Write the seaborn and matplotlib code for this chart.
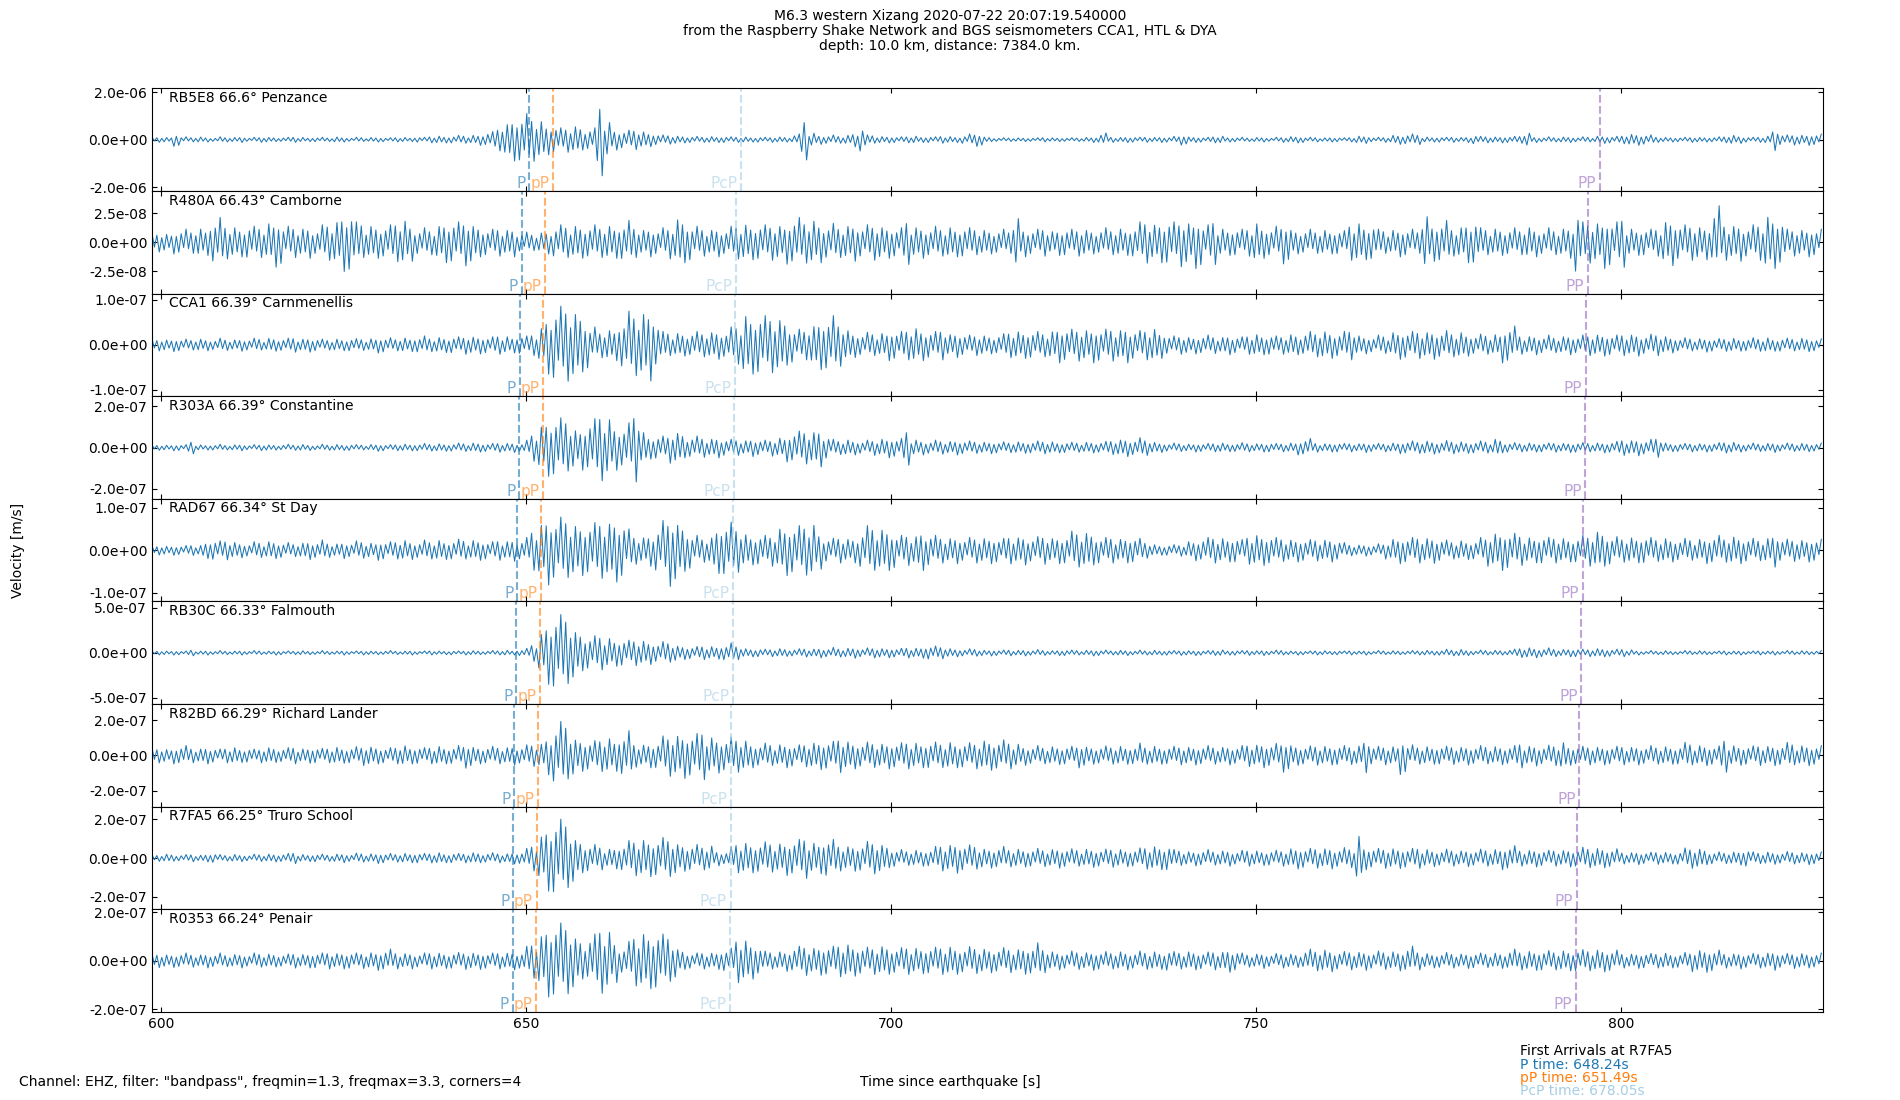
import numpy as np
import matplotlib
matplotlib.use("Agg")
import matplotlib.pyplot as plt
import matplotlib.transforms as mtransforms
from matplotlib.ticker import FormatStrFormatter
import seaborn as sns

# station info
stations = ["RB5E8", "R480A", "CCA1", "R303A", "RAD67", "RB30C", "R82BD", "R7FA5", "R0353"]
distances = ["66.6", "66.43", "66.39", "66.39", "66.34", "66.33", "66.29", "66.25", "66.24"]
places = ["Penzance", "Camborne", "Carnmenellis", "Constantine", "St Day", "Falmouth",
          "Richard Lander", "Truro School", "Penair"]

# y tick value and y limit per panel [m/s]
ytick_vals = [2.0e-6, 2.5e-8, 1.0e-7, 2.0e-7, 1.0e-7, 5.0e-7, 2.0e-7, 2.0e-7, 2.0e-7]
ylims = [2.16e-6, 4.39e-8, 1.14e-7, 2.49e-7, 1.21e-7, 5.7e-7, 2.9e-7, 2.64e-7, 2.12e-7]

# arrival times [s] per station
p_times = [650.45, 649.45, 649.15, 649.1, 648.85, 648.7, 648.45, 648.24, 648.2]
pP_times = [653.75, 652.7, 652.4, 652.35, 652.1, 651.95, 651.7, 651.49, 651.45]
pcp_times = [679.5, 678.8, 678.65, 678.55, 678.45, 678.4, 678.15, 678.05, 677.95]
PP_times = [797.1, 795.5, 795.2, 795.15, 794.75, 794.6, 794.3, 793.95, 793.85]

# trace envelopes: peak amplitude per second (599 s .. 827 s), in % of the panel's y tick
trace_start = 598.8
env_rb5e8 = [5, 6, 5, 14, 6, 5, 6, 5, 4, 6, 5, 5, 6, 4, 5, 6, 5, 4, 5, 6,
             5, 4, 5, 5, 4, 6, 5, 4, 5, 4, 5, 5, 4, 5, 5, 4, 6, 5, 7, 8,
             7, 8, 9, 8, 10, 12, 17, 25, 35, 45, 50, 55, 48, 42, 32, 30, 25, 28, 30, 22,
             25, 80, 40, 22, 20, 20, 22, 18, 15, 12, 10, 10, 8, 7, 7, 6, 7, 6, 7, 6,
             6, 6, 5, 6, 5, 6, 6, 5, 12, 45, 15, 10, 9, 10, 8, 10, 15, 28, 10, 8,
             7, 7, 6, 7, 8, 6, 7, 6, 8, 7, 6, 9, 12, 15, 6, 4, 4, 4, 4, 4,
             4, 4, 5, 4, 4, 4, 4, 4, 5, 6, 14, 6, 5, 6, 6, 5, 6, 5, 6, 6,
             7, 12, 6, 6, 5, 7, 8, 5, 5, 5, 4, 5, 5, 4, 5, 6, 7, 7, 5, 5,
             4, 5, 5, 4, 5, 8, 8, 5, 5, 6, 10, 10, 12, 11, 6, 5, 6, 5, 6, 5,
             6, 10, 7, 7, 6, 7, 7, 8, 15, 6, 5, 6, 5, 6, 6, 5, 6, 5, 8, 8,
             7, 9, 12, 12, 11, 10, 6, 5, 5, 5, 5, 6, 5, 5, 6, 7, 10, 8, 6, 5,
             6, 8, 23, 12, 10, 12, 10, 12, 12]
env_r480a = [30, 35, 30, 40, 45, 40, 50, 45, 75, 85, 60, 55, 50, 60, 55, 55, 70, 85, 55, 55,
             50, 55, 45, 60, 65, 75, 100, 108, 70, 55, 60, 55, 60, 70, 80, 65, 45, 50, 45, 60,
             70, 75, 70, 85, 60, 50, 45, 50, 45, 50, 35, 35, 30, 35, 40, 55, 60, 55, 60, 55,
             60, 55, 60, 55, 65, 75, 55, 45, 50, 45, 50, 60, 85, 70, 55, 50, 45, 50, 45, 55,
             60, 65, 60, 65, 60, 65, 60, 75, 85, 75, 80, 70, 60, 65, 55, 60, 65, 55, 60, 65,
             55, 55, 50, 80, 55, 55, 50, 55, 50, 55, 50, 55, 50, 45, 45, 40, 45, 40, 90, 50,
             45, 45, 50, 40, 45, 50, 45, 50, 45, 40, 50, 45, 50, 45, 55, 70, 75, 65, 70, 80,
             70, 88, 70, 90, 60, 80, 50, 45, 50, 45, 50, 70, 55, 50, 55, 78, 45, 40, 45, 40,
             45, 40, 45, 40, 65, 70, 60, 65, 45, 40, 45, 50, 45, 40, 97, 65, 70, 75, 50, 55,
             70, 80, 50, 45, 50, 45, 50, 45, 55, 50, 45, 50, 45, 50, 55, 116, 70, 75, 70, 90,
             70, 90, 50, 45, 50, 45, 50, 75, 80, 65, 60, 65, 55, 60, 125, 65, 60, 65, 55, 60,
             65, 95, 90, 80, 45, 50, 45, 50, 45]
env_cca1 = [12, 14, 12, 15, 13, 12, 14, 13, 12, 15, 13, 12, 14, 13, 15, 12, 16, 14, 15, 17,
            14, 16, 15, 13, 12, 14, 13, 15, 14, 13, 15, 18, 16, 14, 17, 15, 18, 20, 16, 18,
            17, 20, 18, 22, 19, 20, 18, 22, 20, 18, 22, 20, 25, 40, 65, 85, 86, 85, 75, 60,
            40, 30, 35, 35, 55, 75, 72, 75, 80, 50, 30, 25, 28, 25, 30, 28, 30, 32, 30, 40,
            45, 70, 65, 70, 65, 65, 60, 45, 35, 35, 45, 55, 60, 65, 50, 35, 28, 25, 28, 25,
            28, 35, 30, 35, 40, 35, 32, 30, 35, 25, 28, 25, 22, 25, 22, 20, 25, 30, 32, 30,
            32, 30, 28, 32, 40, 38, 35, 38, 35, 40, 35, 38, 35, 40, 35, 32, 35, 38, 30, 22,
            20, 22, 18, 20, 22, 20, 18, 22, 20, 18, 22, 25, 22, 24, 20, 22, 25, 22, 30, 28,
            32, 30, 28, 30, 35, 22, 20, 18, 22, 20, 30, 32, 30, 32, 30, 32, 30, 32, 28, 30,
            25, 22, 24, 22, 25, 40, 42, 22, 20, 22, 20, 22, 18, 20, 22, 20, 22, 25, 24, 25,
            22, 25, 24, 25, 22, 24, 25, 20, 18, 15, 16, 14, 15, 16, 14, 15, 16, 14, 15, 16,
            15, 17, 14, 16, 15, 14, 16, 15, 14]
env_r303a = [6, 7, 6, 8, 7, 16, 7, 6, 7, 8, 6, 7, 8, 6, 7, 8, 7, 6, 8, 7,
             8, 7, 6, 8, 7, 8, 7, 8, 7, 6, 8, 9, 7, 8, 9, 8, 9, 10, 9, 10,
             9, 10, 11, 10, 12, 11, 10, 12, 11, 12, 10, 18, 35, 55, 70, 75, 72, 60, 45, 55,
             70, 85, 75, 55, 50, 60, 88, 40, 28, 30, 28, 40, 38, 25, 28, 25, 22, 25, 22, 20,
             20, 18, 22, 20, 18, 22, 25, 35, 40, 42, 40, 47, 30, 20, 18, 20, 18, 16, 18, 20,
             22, 25, 22, 45, 20, 18, 16, 18, 17, 16, 18, 17, 16, 15, 14, 15, 14, 13, 15, 14,
             15, 16, 16, 15, 13, 14, 13, 12, 14, 13, 15, 18, 20, 22, 20, 24, 20, 14, 12, 10,
             11, 10, 9, 11, 10, 11, 12, 10, 11, 12, 11, 10, 11, 12, 10, 11, 12, 18, 22, 12,
             10, 11, 12, 10, 11, 10, 12, 11, 10, 11, 12, 15, 16, 15, 17, 16, 15, 17, 16, 15,
             14, 15, 16, 14, 22, 13, 12, 11, 12, 11, 12, 11, 12, 11, 12, 13, 12, 11, 12, 13,
             15, 20, 18, 20, 18, 20, 25, 12, 10, 11, 10, 11, 10, 11, 12, 14, 14, 11, 10, 11,
             10, 11, 12, 10, 11, 10, 11, 10, 11]
env_rad67 = [10, 12, 10, 12, 11, 13, 12, 20, 25, 22, 24, 20, 18, 16, 20, 18, 22, 20, 18, 16,
             18, 22, 20, 24, 18, 16, 20, 18, 22, 20, 18, 24, 20, 22, 25, 22, 20, 24, 22, 25,
             22, 24, 26, 22, 25, 24, 20, 25, 22, 26, 24, 30, 50, 65, 82, 75, 78, 68, 62, 60,
             65, 70, 68, 75, 70, 50, 35, 32, 38, 55, 70, 90, 65, 50, 35, 30, 32, 55, 65, 66,
             55, 40, 35, 38, 35, 40, 55, 60, 58, 62, 65, 45, 30, 28, 32, 28, 30, 45, 58, 50,
             52, 48, 35, 38, 35, 48, 40, 35, 32, 30, 32, 28, 30, 32, 30, 32, 28, 34, 32, 35,
             30, 32, 35, 30, 32, 35, 45, 42, 44, 35, 30, 32, 28, 30, 32, 28, 20, 14, 12, 14,
             13, 15, 22, 25, 30, 32, 30, 28, 32, 25, 35, 38, 36, 35, 30, 28, 26, 28, 25, 27,
             26, 28, 25, 18, 14, 13, 14, 13, 15, 22, 28, 32, 30, 32, 30, 31, 28, 24, 22, 24,
             22, 24, 30, 40, 42, 48, 40, 38, 32, 30, 35, 30, 32, 30, 28, 32, 35, 40, 47, 38,
             32, 30, 32, 30, 34, 30, 28, 30, 28, 26, 28, 25, 28, 32, 35, 30, 34, 32, 30, 28,
             26, 30, 40, 28, 26, 28, 25, 28, 26]
env_rb30c = [4, 5, 4, 5, 4, 7, 4, 5, 4, 5, 4, 4, 5, 4, 5, 4, 4, 5, 4, 4,
             5, 4, 4, 5, 4, 4, 5, 4, 4, 5, 4, 4, 5, 4, 4, 5, 4, 4, 5, 4,
             4, 5, 4, 5, 5, 4, 5, 5, 6, 5, 7, 10, 20, 45, 70, 87, 85, 72, 50, 40,
             38, 40, 35, 30, 32, 28, 30, 28, 26, 22, 25, 22, 16, 15, 14, 16, 15, 14, 18, 22,
             16, 10, 9, 10, 8, 9, 10, 8, 9, 10, 9, 11, 10, 12, 10, 11, 12, 10, 11, 12,
             10, 11, 10, 12, 11, 12, 16, 15, 14, 10, 9, 8, 9, 8, 6, 7, 6, 7, 6, 7,
             6, 7, 6, 5, 6, 7, 6, 5, 6, 7, 6, 5, 6, 6, 5, 6, 5, 6, 5, 6,
             5, 6, 5, 6, 5, 6, 7, 5, 6, 5, 6, 5, 6, 5, 6, 5, 4, 5, 4, 5,
             5, 4, 5, 4, 5, 4, 5, 4, 5, 4, 5, 4, 5, 5, 6, 5, 6, 8, 7, 8,
             6, 5, 6, 5, 6, 5, 8, 11, 12, 11, 10, 11, 9, 8, 9, 10, 8, 9, 10, 9,
             8, 9, 7, 5, 4, 5, 4, 5, 4, 4, 5, 4, 5, 4, 4, 5, 4, 5, 4, 4,
             5, 4, 5, 4, 5, 4, 5, 4, 5]
env_r82bd = [20, 22, 18, 24, 28, 22, 20, 24, 22, 18, 22, 24, 20, 22, 18, 22, 24, 20, 22, 25,
             20, 22, 24, 20, 22, 25, 22, 24, 25, 30, 26, 24, 22, 25, 30, 24, 26, 22, 25, 28,
             24, 26, 28, 38, 25, 24, 26, 25, 24, 28, 25, 30, 33, 35, 55, 85, 96, 70, 48, 45,
             42, 48, 52, 45, 60, 70, 35, 32, 35, 40, 55, 62, 60, 65, 62, 72, 55, 50, 48, 52,
             50, 45, 35, 32, 35, 30, 33, 35, 30, 34, 38, 40, 42, 40, 51, 42, 38, 35, 38, 36,
             35, 38, 36, 40, 38, 35, 40, 38, 36, 40, 35, 38, 36, 40, 45, 42, 44, 40, 35, 28,
             26, 28, 25, 27, 26, 28, 26, 37, 26, 25, 27, 26, 28, 25, 27, 35, 26, 28, 25, 27,
             26, 28, 25, 27, 28, 26, 25, 27, 26, 28, 33, 32, 35, 33, 34, 50, 30, 28, 27, 29,
             28, 27, 30, 28, 27, 29, 49, 28, 26, 28, 27, 54, 30, 26, 27, 25, 28, 26, 27, 25,
             27, 26, 28, 25, 27, 26, 28, 37, 28, 30, 27, 29, 30, 40, 28, 27, 26, 28, 25, 27,
             26, 28, 25, 27, 26, 28, 26, 27, 25, 28, 37, 28, 30, 29, 27, 50, 30, 28, 29, 27,
             30, 28, 29, 30, 37, 28, 30, 29, 28]
env_r7fa5 = [8, 9, 11, 8, 9, 10, 8, 10, 13, 9, 8, 10, 9, 8, 10, 9, 11, 10, 12, 15,
             10, 9, 11, 10, 9, 11, 12, 10, 13, 11, 12, 14, 12, 11, 13, 12, 14, 12, 13, 15,
             12, 14, 12, 13, 15, 12, 14, 13, 12, 15, 16, 25, 35, 60, 85, 102, 100, 80, 50, 38,
             35, 32, 25, 28, 35, 45, 48, 50, 48, 50, 53, 50, 38, 34, 35, 32, 34, 20, 17, 30,
             40, 42, 38, 40, 42, 38, 40, 45, 48, 55, 42, 40, 52, 48, 35, 32, 34, 36, 43, 43,
             36, 25, 22, 20, 22, 21, 23, 30, 35, 36, 39, 35, 34, 30, 25, 26, 30, 24, 25, 23,
             24, 25, 23, 24, 26, 25, 24, 22, 25, 24, 23, 25, 24, 22, 24, 26, 30, 32, 30, 35,
             22, 20, 18, 20, 22, 19, 20, 21, 18, 20, 22, 20, 19, 21, 20, 22, 26, 28, 25, 27,
             26, 28, 25, 27, 26, 62, 30, 27, 25, 28, 26, 27, 25, 28, 24, 22, 21, 23, 22, 20,
             22, 21, 23, 22, 24, 30, 32, 22, 21, 23, 22, 20, 22, 21, 23, 24, 28, 26, 27, 25,
             24, 16, 15, 17, 16, 15, 17, 16, 15, 18, 26, 28, 25, 17, 16, 15, 17, 18, 24, 16,
             15, 17, 16, 15, 17, 16, 15, 17, 16]
env_r0353 = [14, 15, 13, 14, 16, 14, 13, 15, 14, 16, 13, 14, 15, 13, 16, 14, 15, 13, 14, 16,
             14, 15, 17, 16, 18, 16, 17, 18, 16, 17, 18, 20, 24, 18, 16, 17, 15, 16, 18, 17,
             16, 18, 17, 19, 17, 18, 16, 18, 17, 19, 18, 30, 38, 55, 75, 81, 78, 72, 50, 38,
             55, 71, 65, 45, 28, 40, 55, 60, 58, 64, 55, 45, 25, 18, 16, 18, 17, 18, 24, 26,
             48, 45, 38, 30, 20, 18, 20, 22, 30, 32, 28, 30, 32, 30, 35, 36, 32, 30, 28, 30,
             32, 28, 27, 30, 28, 27, 29, 28, 30, 31, 28, 27, 29, 28, 26, 25, 27, 26, 25, 28,
             30, 37, 26, 20, 19, 18, 20, 19, 18, 20, 19, 18, 20, 19, 18, 20, 19, 20, 18, 23,
             19, 18, 20, 19, 18, 20, 19, 24, 22, 16, 14, 15, 16, 14, 15, 16, 15, 14, 24, 22,
             24, 23, 20, 19, 20, 19, 20, 18, 20, 19, 20, 21, 30, 20, 16, 15, 16, 17, 16, 15,
             16, 17, 16, 15, 17, 16, 24, 20, 21, 20, 22, 21, 20, 22, 21, 24, 23, 22, 24, 23,
             22, 16, 15, 16, 17, 15, 16, 17, 15, 16, 17, 24, 23, 24, 22, 16, 15, 17, 16, 15,
             16, 17, 20, 16, 15, 17, 16, 15, 16]
envelopes = [env_rb5e8, env_r480a, env_cca1, env_r303a, env_rad67,
             env_rb30c, env_r82bd, env_r7fa5, env_r0353]

# wiggle shape drawn under the envelope (alternating half-cycles, 3 per second)
wiggle = np.array([1.0, -0.55, 0.8, -0.95, 0.45, -0.75, 0.9, -0.6, 0.7, -1.0, 0.5, -0.85, 0.65, -0.4])

sns.set_style("ticks", rc={"axes.edgecolor": "black", "xtick.color": "black",
                           "ytick.color": "black", "text.color": "black"})
plt.rcParams["font.family"] = ["DejaVu Sans"]

fig, axes = plt.subplots(9, 1, sharex=True, figsize=(19, 11), dpi=100)
fig.subplots_adjust(left=0.08, right=0.9595, top=0.9197, bottom=0.08, hspace=0)

phases = [("P", p_times, "tab:blue"), ("pP", pP_times, "tab:orange"),
          ("PcP", pcp_times, "#a6cee3"), ("PP", PP_times, "tab:purple")]

for i, ax in enumerate(axes):
    env = np.array(envelopes[i], dtype=float)
    n = len(env)
    t = trace_start + np.arange(n * 3) / 3
    shape = np.resize(wiggle, n * 3)
    v = np.repeat(env, 3) * shape * ytick_vals[i] / 100
    sns.lineplot(x=t, y=v, ax=ax, color="tab:blue", linewidth=0.75,
                 estimator=None, sort=False)

    trans = mtransforms.blended_transform_factory(ax.transData, ax.transAxes)
    for name, times, col in phases:
        ax.axvline(times[i], color=col, ls="--", lw=1.5, alpha=0.6)
        ax.text(times[i] - 0.5, 0.0, name, color=col, alpha=0.6, transform=trans,
                ha="right", va="bottom", fontsize=11)

    ax.text(0.01, 0.975, f"{stations[i]} {distances[i]}° {places[i]}",
            transform=ax.transAxes, va="top", fontsize=10)

    ax.set_ylim(-ylims[i], ylims[i])
    ax.set_yticks([-ytick_vals[i], 0, ytick_vals[i]])
    ax.yaxis.set_major_formatter(FormatStrFormatter("%.1e"))
    ax.set_ylabel("")
    ax.tick_params(direction="in", top=True, right=True, labelsize=10)

axes[-1].set_xlim(598.8, 827.7)
axes[-1].set_xticks([600, 650, 700, 750, 800])

fig.suptitle("M6.3 western Xizang 2020-07-22 20:07:19.540000\n"
             "from the Raspberry Shake Network and BGS seismometers CCA1, HTL & DYA\n"
             "depth: 10.0 km, distance: 7384.0 km.",
             fontsize=10, y=0.992, va="top", linespacing=1.1)

fig.text(0.0095, 0.5, "Velocity [m/s]", rotation=90, ha="center", va="center", fontsize=10)
fig.text(0.5, 0.0165, "Time since earthquake [s]", ha="center", va="center", fontsize=10)
fig.text(0.01, 0.0165, 'Channel: EHZ, filter: "bandpass", freqmin=1.3, freqmax=3.3, corners=4',
         ha="left", va="center", fontsize=10)

fig.text(0.8, 0.0445, "First Arrivals at R7FA5", va="center", fontsize=10)
fig.text(0.8, 0.0318, "P time: 648.24s", color="tab:blue", va="center", fontsize=10)
fig.text(0.8, 0.0200, "pP time: 651.49s", color="tab:orange", va="center", fontsize=10)
fig.text(0.8, 0.0082, "PcP time: 678.05s", color="#a6cee3", va="center", fontsize=10)

fig.savefig("out.png", dpi=100)
